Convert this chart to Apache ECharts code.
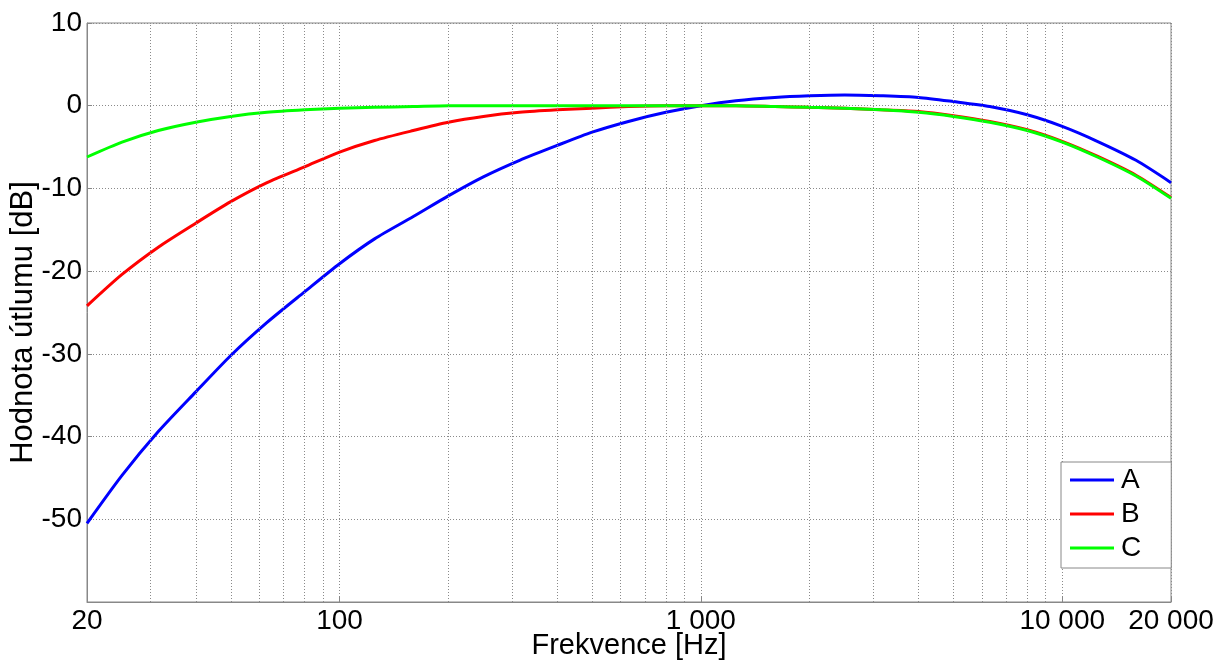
<!DOCTYPE html>
<html>
<head>
<meta charset="utf-8">
<script src="https://cdn.jsdelivr.net/npm/echarts@6/dist/echarts.min.js"></script>
<style>
html,body{margin:0;padding:0;background:#fff;}
#chart{width:1221px;height:664px;}
</style>
</head>
<body>
<div id="chart"></div>
<script>
// Frequencies (Hz)
const freqs = [20, 25, 31.5, 40, 50, 63, 80, 100, 125, 160, 200, 250, 315, 400, 500, 630, 800, 1000, 1250, 1600, 2000, 2500, 3150, 4000, 5000, 6300, 8000, 10000, 12500, 16000, 20000];
// Attenuation values (dB)
const seriesA = [-50.5, -44.7, -39.4, -34.6, -30.2, -26.2, -22.5, -19.1, -16.1, -13.4, -10.9, -8.6, -6.6, -4.8, -3.2, -1.9, -0.8, 0, 0.6, 1.0, 1.2, 1.3, 1.2, 1.0, 0.5, -0.1, -1.1, -2.5, -4.3, -6.6, -9.3];
const seriesB = [-24.2, -20.4, -17.1, -14.2, -11.6, -9.3, -7.4, -5.6, -4.2, -3.0, -2.0, -1.3, -0.8, -0.5, -0.3, -0.1, 0, 0, 0, -0.1, -0.2, -0.3, -0.5, -0.7, -1.2, -1.9, -2.9, -4.3, -6.1, -8.4, -11.1];
const seriesC = [-6.2, -4.4, -3.0, -2.0, -1.3, -0.8, -0.5, -0.3, -0.2, -0.1, 0, 0, 0, 0, 0, 0, 0, 0, 0, -0.1, -0.2, -0.3, -0.5, -0.8, -1.3, -2.0, -3.0, -4.4, -6.2, -8.5, -11.2];
const seriesNames = ['A', 'B', 'C'];
// Minor vertical grid positions on the log axis
const minorGrid = [30, 40, 50, 60, 70, 80, 90, 200, 300, 400, 500, 600, 700, 800, 900, 2000, 3000, 4000, 5000, 6000, 7000, 8000, 9000];
const yTicks = [-60, -50, -40, -30, -20, -10, 0, 10];

const font = 'Liberation Sans, Arial, sans-serif';
function fmtThousands(v) {
  const s = String(Math.round(v));
  return s.replace(/\B(?=(\d{3})+(?!\d))/g, ' ');
}
const pair = (ys) => freqs.map((f, i) => [f, ys[i]]);
const gridLine = { type: [1, 2], color: '#8a8a8a', width: 1 };

const chart = echarts.init(document.getElementById('chart'), null, { renderer: 'canvas' });
chart.setOption({
  animation: false,
  backgroundColor: '#fff',
  grid: { left: 87, right: 50, top: 23, bottom: 62, containLabel: false, outerBoundsMode: 'none',
    show: true, borderColor: '#888', borderWidth: 1, backgroundColor: 'transparent' },
  legend: {
    data: seriesNames,
    orient: 'vertical',
    left: 1061, top: 462,
    padding: [4, 30, 6, 9],
    itemGap: 6,
    itemWidth: 44, itemHeight: 3,
    icon: 'rect',
    backgroundColor: '#fff',
    borderColor: '#888', borderWidth: 1,
    textStyle: { fontFamily: font, fontSize: 28, color: '#000', padding: [0, 0, 0, 2] }
  },
  xAxis: {
    type: 'log', logBase: 10, min: 20, max: 20000,
    name: 'Frekvence [Hz]', nameLocation: 'middle', nameGap: 29, nameMoveOverlap: false,
    nameTextStyle: { fontFamily: font, fontSize: 29, color: '#000' },
    axisLine: { onZero: false, lineStyle: { color: '#888' } },
    axisTick: { inside: true, length: 5, lineStyle: { color: '#888' } },
    axisLabel: { fontFamily: font, fontSize: 28, color: '#000', margin: 5, formatter: fmtThousands },
    splitLine: { show: true, lineStyle: gridLine }
  },
  yAxis: {
    type: 'value', min: -60, max: 10, interval: 10,
    name: 'Hodnota útlumu [dB]', nameLocation: 'middle', nameGap: 48, nameMoveOverlap: false,
    nameTextStyle: { fontFamily: font, fontSize: 31, color: '#000', padding: [0, 20, 0, 0] },
    axisLine: { show: true, onZero: false, lineStyle: { color: '#888' } },
    axisTick: { show: true, inside: true, length: 5, lineStyle: { color: '#888' } },
    axisLabel: { fontFamily: font, fontSize: 28, color: '#000', margin: 5,
      formatter: v => (v === yTicks[0] ? '' : String(v)) },
    splitLine: { show: true, lineStyle: gridLine }
  },
  series: [
    { name: '_grid', type: 'line', data: [], z: 1, silent: true,
      markLine: { silent: true, symbol: 'none', label: { show: false }, lineStyle: gridLine, animation: false,
        data: minorGrid.map(v => ({ xAxis: v })) } },
    { name: seriesNames[0], type: 'line', data: pair(seriesA), showSymbol: false, smooth: 0.25, z: 3, color: '#0000ff', lineStyle: { width: 3, color: '#0000ff' } },
    { name: seriesNames[1], type: 'line', data: pair(seriesB), showSymbol: false, smooth: 0.25, z: 3, color: '#ff0000', lineStyle: { width: 3, color: '#ff0000' } },
    { name: seriesNames[2], type: 'line', data: pair(seriesC), showSymbol: false, smooth: 0.25, z: 4, color: '#00ff00', lineStyle: { width: 3, color: '#00ff00' } }
  ]
});
</script>
</body>
</html>
